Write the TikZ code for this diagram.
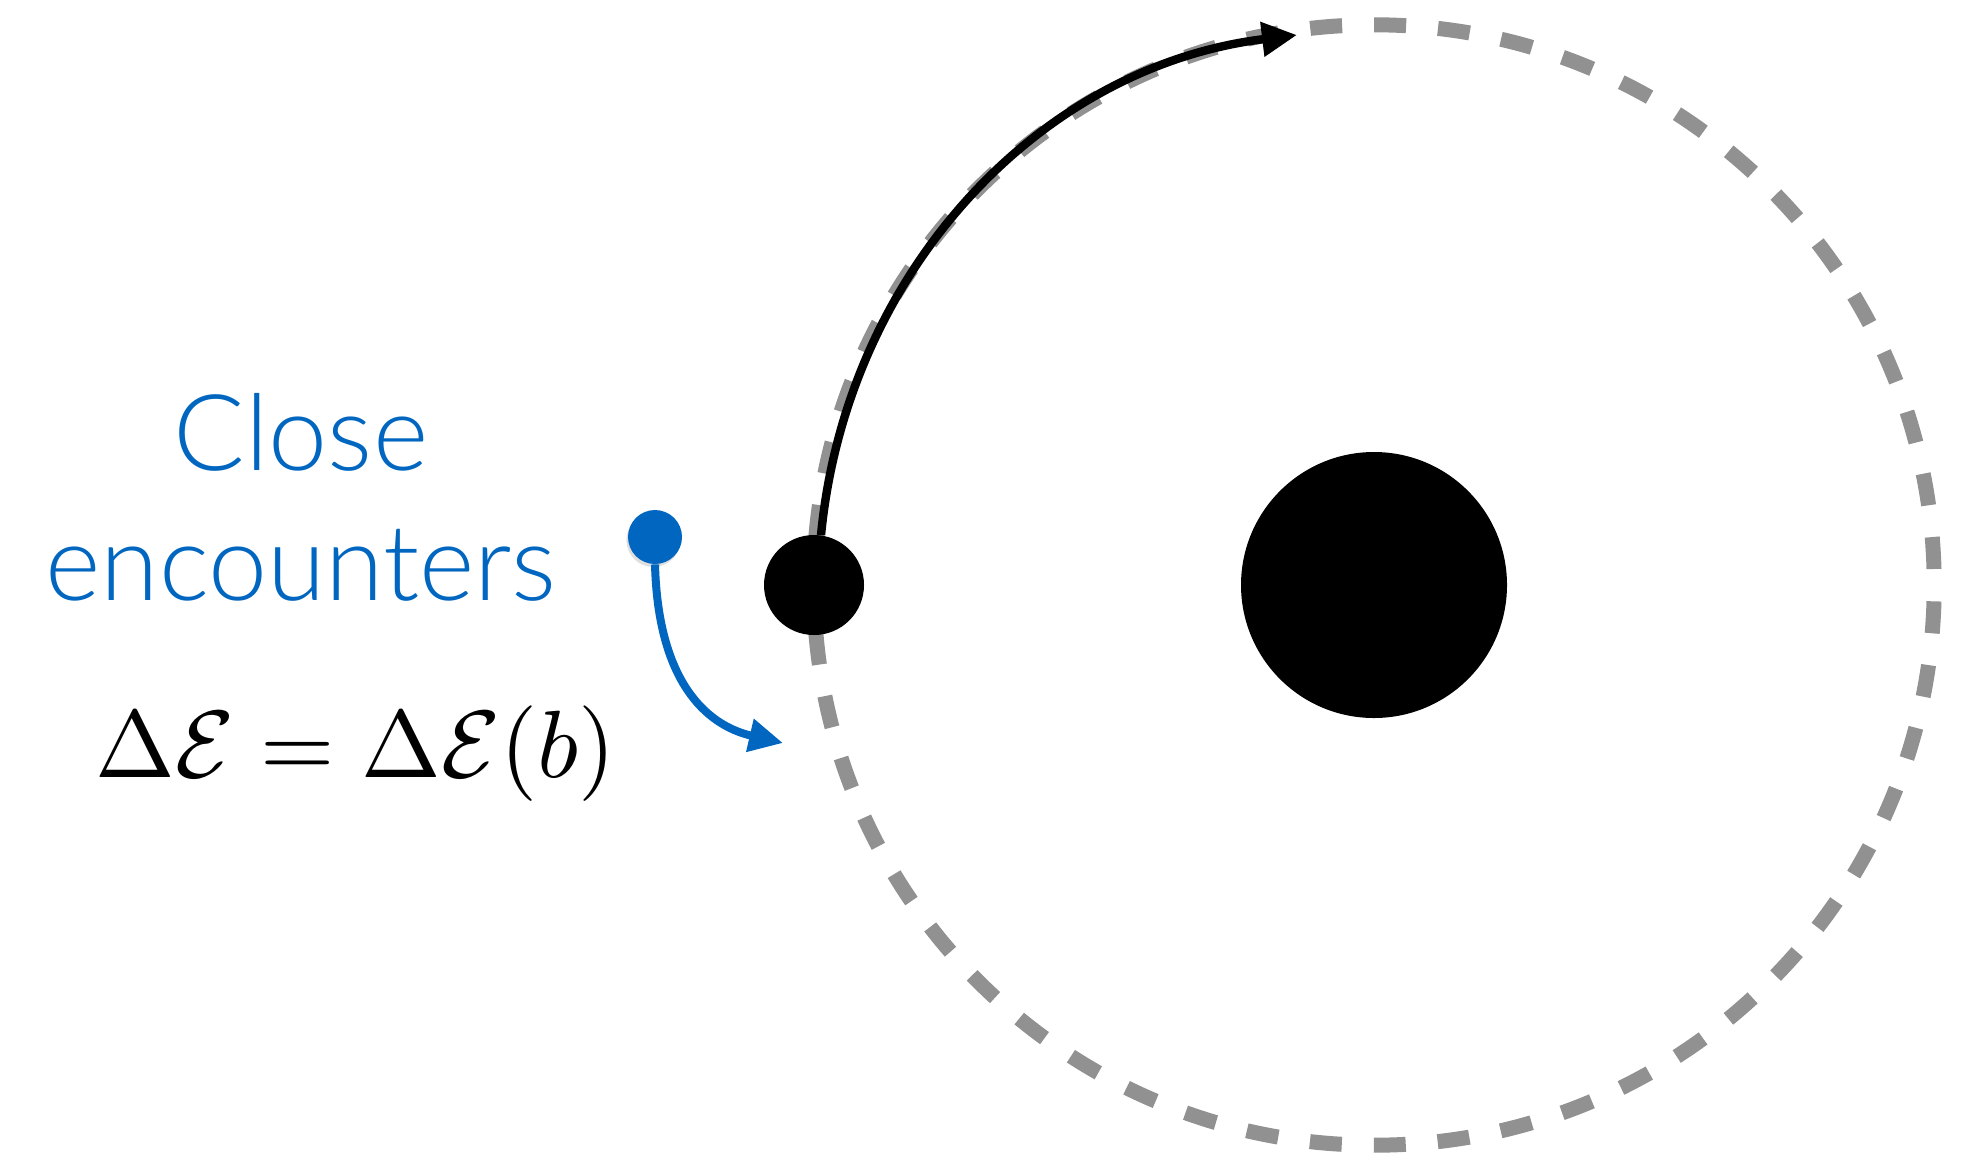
\documentclass[tikz,border=0pt]{standalone}
\usepackage{graphicx}
\usepackage{fontspec}
\newfontfamily\labelfont{Lato Light}
\usetikzlibrary{arrows.meta,shadows}
\definecolor{encblue}{RGB}{0,102,192}
\definecolor{orbitgrey}{RGB}{145,145,145}
\begin{document}
\begin{tikzpicture}[x=0.5pt,y=-0.5pt,
  hole/.style={circle,fill=black,inner sep=0pt},
  orbit/.style={draw=orbitgrey,line width=7.5pt,dash pattern=on 16pt off 16pt,dash phase=24pt},
  bluetxt/.style={text=encblue,inner sep=0pt,anchor=base,font=\labelfont\fontsize{53pt}{65pt}\selectfont},
  mathtxt/.style={inner sep=0pt,anchor=base west},
  pathblack/.style={line width=4.2pt,-{Triangle[length=17.5pt,width=16.5pt]}},
  pathblue/.style={draw=encblue,line width=4pt,-{Triangle[length=17pt,width=16pt]}}]
\useasboundingbox (0,0) rectangle (1973,1162);
\coordinate (centre) at (1374,585);
\draw[orbit] (centre) circle[radius=280.1pt];
\node[hole,minimum size=133pt] (bigbh) at (centre) {};
\node[hole,minimum size=50pt] (smallbh) at (814,585) {};
\node[circle,fill=encblue,inner sep=0pt,minimum size=27pt,
  drop shadow={shadow xshift=-0.8pt,shadow yshift=-1.5pt,opacity=0.25}] (enc) at (655,537) {};
\coordinate (tipend) at (1297,35);
\coordinate (bluetip) at (783,743);
\draw[pathblack] (smallbh.82) .. controls (846,275) and (1037,67) .. (tipend);
\draw[pathblue] (enc.south) .. controls (658,680) and (705,725) .. (bluetip);
\node[bluetxt] (close) at (301,470) {Close};
\node[bluetxt] (encounters) at (301,600) {encounters};
\node[mathtxt] (eq) at (95,777) {\scalebox{4.78}{$\Delta\mathcal{E}=\Delta\mathcal{E}(b)$}};
\end{tikzpicture}
\end{document}
